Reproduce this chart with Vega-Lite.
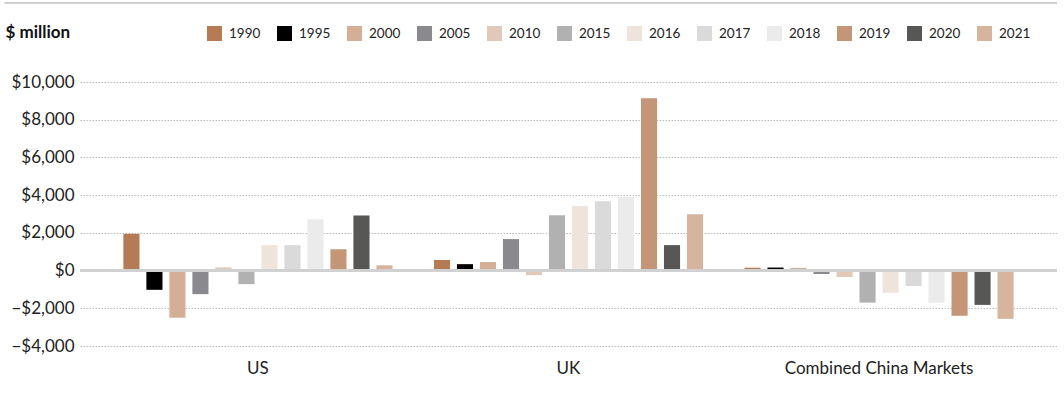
{
  "$schema": "https://vega.github.io/schema/vega-lite/v6.json",
  "autosize": "none",
  "width": 977,
  "height": 264,
  "padding": {"left": 80, "top": 82, "right": 7, "bottom": 68},
  "background": "white",
  "config": {
    "font": "Lato",
    "view": {"stroke": null},
    "axis": {"labelFont": "Lato", "labelColor": "#222222", "labelFontSize": 17}
  },
  "data": {
    "values": [
      {"region": "US", "year": "1990", "value": 1950},
      {"region": "US", "year": "1995", "value": -1020},
      {"region": "US", "year": "2000", "value": -2500},
      {"region": "US", "year": "2005", "value": -1250},
      {"region": "US", "year": "2010", "value": 170},
      {"region": "US", "year": "2015", "value": -720},
      {"region": "US", "year": "2016", "value": 1350},
      {"region": "US", "year": "2017", "value": 1350},
      {"region": "US", "year": "2018", "value": 2720},
      {"region": "US", "year": "2019", "value": 1130},
      {"region": "US", "year": "2020", "value": 2920},
      {"region": "US", "year": "2021", "value": 280},
      {"region": "UK", "year": "1990", "value": 560},
      {"region": "UK", "year": "1995", "value": 340},
      {"region": "UK", "year": "2000", "value": 450},
      {"region": "UK", "year": "2005", "value": 1670},
      {"region": "UK", "year": "2010", "value": -240},
      {"region": "UK", "year": "2015", "value": 2940},
      {"region": "UK", "year": "2016", "value": 3420},
      {"region": "UK", "year": "2017", "value": 3680},
      {"region": "UK", "year": "2018", "value": 3900},
      {"region": "UK", "year": "2019", "value": 9140},
      {"region": "UK", "year": "2020", "value": 1350},
      {"region": "UK", "year": "2021", "value": 2990},
      {"region": "Combined China Markets", "year": "1990", "value": 150},
      {"region": "Combined China Markets", "year": "1995", "value": 160},
      {"region": "Combined China Markets", "year": "2000", "value": 140},
      {"region": "Combined China Markets", "year": "2005", "value": -180},
      {"region": "Combined China Markets", "year": "2010", "value": -340},
      {"region": "Combined China Markets", "year": "2015", "value": -1700},
      {"region": "Combined China Markets", "year": "2016", "value": -1180},
      {"region": "Combined China Markets", "year": "2017", "value": -820},
      {"region": "Combined China Markets", "year": "2018", "value": -1700},
      {"region": "Combined China Markets", "year": "2019", "value": -2400},
      {"region": "Combined China Markets", "year": "2020", "value": -1820},
      {"region": "Combined China Markets", "year": "2021", "value": -2560}
    ]
  },
  "layer": [
    {
      "mark": {"type": "bar"},
      "encoding": {
        "x": {
          "field": "region",
          "type": "nominal",
          "sort": null,
          "scale": {"paddingInner": 0, "paddingOuter": 0.073},
          "axis": {"title": null, "labelAngle": 0, "domain": false, "ticks": false, "labelPadding": 14, "labelLimit": 400}
        },
        "xOffset": {
          "field": "year",
          "type": "nominal",
          "sort": null,
          "scale": {"paddingInner": 0.3, "paddingOuter": 0.9}
        },
        "y": {
          "field": "value",
          "type": "quantitative",
          "scale": {"domain": [-4000, 10000], "nice": false, "zero": false},
          "axis": {
            "title": "$ million",
            "titleAngle": 0,
            "titleX": -75,
            "titleY": -41,
            "titleAlign": "left",
            "titleBaseline": "bottom",
            "titleFont": "Lato",
            "titleFontSize": 17,
            "titleFontWeight": "bold",
            "titleColor": "#111111",
            "values": [-4000, -2000, 0, 2000, 4000, 6000, 8000, 10000],
            "labelOverlap": false,
            "format": "$,.0f",
            "domain": false,
            "ticks": false,
            "labelPadding": 6,
            "gridColor": "#bbbbbb",
            "gridDash": [1.5, 1.5],
            "gridWidth": 1
          }
        },
        "color": {
          "field": "year",
          "type": "nominal",
          "sort": null,
          "scale": {
            "domain": ["1990", "1995", "2000", "2005", "2010", "2015", "2016", "2017", "2018", "2019", "2020", "2021"],
            "range": ["#b57b55", "#000000", "#d4ae96", "#8a898e", "#e2c8b8", "#b1b1b1", "#efe4dc", "#dadada", "#ebebeb", "#c49677", "#575755", "#d6b49e"]
          },
          "legend": {
            "title": null,
            "orient": "none",
            "direction": "horizontal",
            "columns": 12,
            "legendX": 127,
            "legendY": -56,
            "symbolType": "square",
            "symbolSize": 225,
            "symbolStrokeWidth": 0,
            "labelFont": "Lato",
            "labelFontSize": 13.5,
            "labelColor": "#222222",
            "labelOffset": 7,
            "columnPadding": 16
          }
        }
      }
    },
    {
      "mark": {"type": "rule", "color": "#d0d0d0", "strokeWidth": 2, "opacity": 0.9},
      "encoding": {
        "y": {
          "datum": 0,
          "type": "quantitative",
          "axis": {
            "title": "$ million",
            "titleAngle": 0,
            "titleX": -75,
            "titleY": -41,
            "titleAlign": "left",
            "titleBaseline": "bottom",
            "titleFont": "Lato",
            "titleFontSize": 17,
            "titleFontWeight": "bold",
            "titleColor": "#111111",
            "values": [-4000, -2000, 0, 2000, 4000, 6000, 8000, 10000],
            "labelOverlap": false,
            "format": "$,.0f",
            "domain": false,
            "ticks": false,
            "labelPadding": 6,
            "gridColor": "#bbbbbb",
            "gridDash": [1.5, 1.5],
            "gridWidth": 1
          }
        }
      }
    },
    {
      "mark": {"type": "rule", "color": "#d0d0d0", "strokeWidth": 2, "clip": false},
      "encoding": {
        "x": {"datum": -0.0768, "type": "quantitative", "scale": {"domain": [0, 1], "nice": false, "zero": false}, "axis": null},
        "x2": {"datum": 1},
        "y": {
          "datum": 14190,
          "type": "quantitative",
          "axis": {
            "title": "$ million",
            "titleAngle": 0,
            "titleX": -75,
            "titleY": -41,
            "titleAlign": "left",
            "titleBaseline": "bottom",
            "titleFont": "Lato",
            "titleFontSize": 17,
            "titleFontWeight": "bold",
            "titleColor": "#111111",
            "values": [-4000, -2000, 0, 2000, 4000, 6000, 8000, 10000],
            "labelOverlap": false,
            "format": "$,.0f",
            "domain": false,
            "ticks": false,
            "labelPadding": 6,
            "gridColor": "#bbbbbb",
            "gridDash": [1.5, 1.5],
            "gridWidth": 1
          }
        }
      }
    }
  ],
  "resolve": {"scale": {"x": "independent"}}
}
